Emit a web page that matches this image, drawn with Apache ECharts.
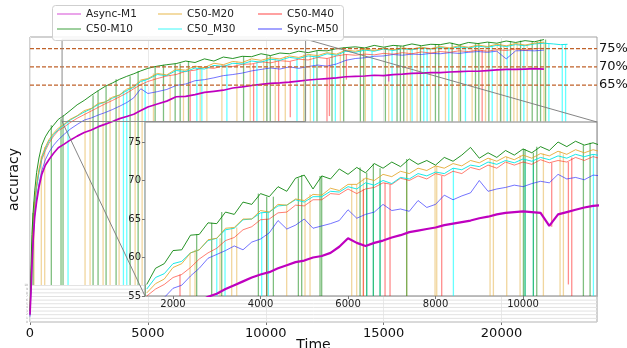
<!DOCTYPE html>
<html><head><meta charset="utf-8">
<script src="https://cdn.jsdelivr.net/npm/echarts@6/dist/echarts.min.js"></script>
<style>html,body{margin:0;padding:0;background:#fff;}#c{width:627px;height:348px;}</style>
</head><body><div id="c"></div>
<script>
// ---------- data: main plot (accuracy vs Time) ----------
const mainT = [0,40,80,130,200,280,380,500,650,800,1000,1200,1450,1700,2000,2300,2600,2900,3200,3500,3800,4100,4400,4700,5000,5400,5800,6200,6600,7000,7400,7800,8200,8600,9000,9400,9800,10200,10600,11000,11400,11800,12200,12600,13000,13400,13800,14200,14600,15000,15400,15800,16200,16600,17000,17400,17800,18200,18600,19000,19400,19800,20200,20600,21000,21400,21800,22200,22500,22800];
const asyncM1Main = [2,8,15,22,29,33,37,40.5,43,44.5,46.3,47.8,48.8,49.9,51.0,52.0,52.7,53.6,54.3,55.0,55.8,56.4,57.0,58.0,59.0,59.8,60.6,61.8,61.9,62.4,63.0,63.3,63.6,64.2,64.5,64.9,65.2,65.5,65.6,65.8,66.1,66.4,66.6,66.8,67.0,67.3,67.4,67.5,67.7,67.6,67.9,68.0,68.2,68.3,68.4,68.4,68.6,68.7,68.8,68.8,69.0,69.2,69.3,69.3,69.4,69.5,69.4,null,null,null];
const c50M10Main = [3,14,24,30,36,41,45,48.5,50.8,52.4,54.0,55.6,56.7,58.0,59.6,60.8,62.2,63.5,64.7,65.6,66.6,67.4,68.1,68.9,69.6,70.2,70.6,70.9,71.6,71.2,72.2,71.6,72.7,72.3,72.9,72.8,73.6,73.1,73.8,73.6,74.3,73.9,74.5,74.4,75.0,75.3,75.5,75.2,75.9,75.4,75.9,75.7,76.3,75.8,76.2,76.1,76.6,76.0,76.7,76.4,76.8,76.5,77.1,76.7,77.2,76.9,77.5,null,null,null];
const c50M20Main = [3,12,20,27,33,38,42,45.5,48,50,51.8,53.2,54.3,55.6,56.6,58.0,58.6,60.0,60.4,61.7,62.3,63.9,64.6,66.4,66.8,68.2,67.8,69.4,69.1,70.2,69.8,71.0,70.6,71.5,71.2,72.2,71.8,72.5,72.2,73.0,72.6,73.4,73.1,73.9,73.5,74.6,74.3,74.9,74.5,75.1,74.7,75.2,74.9,75.4,75.0,75.6,75.2,75.8,75.4,76.0,75.6,76.2,75.8,76.4,76.0,76.5,76.8,null,null,null];
const c50M30Main = [2,10,18,25,32,37,41,45,47.5,49.6,51.4,52.8,54.1,55.4,56.5,57.6,58.5,59.7,60.4,61.4,62.3,63.5,64.4,66.0,66.6,67.9,67.6,69.0,68.7,69.7,69.4,70.4,70.1,71.0,70.8,71.6,71.3,72.1,71.8,72.6,72.3,73.0,72.7,73.6,73.2,74.3,74.0,74.6,74.3,74.9,74.5,75.0,74.7,75.2,74.9,75.3,75.0,75.5,75.2,75.7,75.4,75.9,75.6,76.1,75.8,76.3,76.5,76.3,76.1,76.2];
const c50M40Main = [2,11,19,26,32,37,41,44.5,47,49,51.0,52.5,53.5,54.7,55.9,56.9,57.9,58.9,59.9,60.8,61.8,62.8,64.0,65.1,66.0,66.8,67.5,67.9,68.8,69.1,69.8,69.6,70.3,70.1,70.7,70.8,71.4,71.1,71.7,71.5,72.1,71.9,72.6,72.3,73.0,73.4,73.2,73.5,73.3,73.7,73.5,73.9,73.6,74.1,73.8,74.2,74.0,74.4,74.2,74.6,74.3,74.7,74.5,74.9,74.6,75.0,75.1,null,null,null];
const syncM50Main = [1.5,9,16,23,29,34,38,41.5,44.5,46.5,48.5,50.0,51.5,52.9,54.2,55.4,56.0,56.8,57.5,58.3,59.2,60.2,61.5,64.0,62.7,63.2,63.8,64.9,65.3,66.2,66.5,67.0,67.6,67.9,68.3,68.9,69.3,69.7,69.4,70.0,69.6,70.1,70.5,70.2,70.8,71.8,72.3,72.5,72.9,73.0,73.4,73.2,73.5,73.4,73.7,73.6,73.9,73.7,74.0,74.2,74.0,74.3,72.2,74.4,74.5,74.4,74.6,null,null,null];
// times where a run collapsed to 10% accuracy (main plot)
const c50M10DropsMain = [127,904,1316,1401,2675,2887,3227,3652,4246,4586,5308,5662,6157,6369,6723,9059,10050,10191,11677,12173,12810,13305,14013,14154,15074,15569,15711,15852,16561,17197,17339,17905,18259,18896,19037,19462,19958,20382,20807,21302,21515,21656,21868];
const c50M20DropsMain = [170,480,624,2335,2548,3100,3397,3779,4459,4756,5236,5945,6510,7219,7502,8139,8776,9342,9909,10403,10828,11607,11890,13163,14225,15215,15994,16136,16419,16985,17622,18188,18754,19321,19816,20099,20524,20665,21090,21798];
const c50M30DropsMain = [1614,3963,4105,4883,7077,7289,8351,9625,11324,12031,12951,14508,15357,16207,16702,16844,17764,18471,19604,20241,20948,22009,22577,22718];
const c50M40DropsMain = [6794,9484,10545,12597,19179];
const c50M40DipsMain = [[11040,56.2],[12700,56.5],[13420,66.5]];
const asyncM1DipsMain = [[15215,66.0]];
// ---------- data: inset ----------
const insetT = [1400,1600,1800,2000,2200,2400,2600,2800,3000,3200,3400,3600,3800,4000,4200,4400,4600,4800,5000,5200,5400,5600,5800,6000,6200,6400,6600,6800,7000,7200,7400,7600,7800,8000,8200,8400,8600,8800,9000,9200,9400,9600,9800,10000,10200,10400,10600,10800,11000,11200,11400,11600,11800];
const asyncM1Inset = [50,51,51.8,52.5,53.1,53.7,54.3,54.9,55.3,55.9,56.4,56.9,57.4,57.8,58.1,58.6,59.0,59.4,59.6,60.0,60.2,60.6,61.4,62.5,61.9,61.5,61.9,62.2,62.6,62.9,63.3,63.5,63.7,63.9,64.2,64.4,64.6,64.8,65.1,65.3,65.6,65.8,65.9,66.0,65.9,65.8,64.1,65.6,65.9,66.2,66.5,66.7,66.8];
const c50M10Inset = [56.5,58.6,59.2,60.9,61.0,62.9,63.0,64.5,64.4,65.9,65.6,67.2,66.9,68.3,67.9,69.2,68.6,70.3,70.7,68.9,70.6,70.2,71.5,70.8,71.7,71.0,72.2,71.6,72.4,71.8,72.8,72.1,72.6,72.0,73.0,72.5,73.3,74.3,72.9,73.6,73.0,73.9,73.3,74.1,73.6,74.4,73.9,75.0,74.4,75.1,74.6,74.9,74.5];
const c50M20Inset = [55.4,56.6,57.2,58.7,59.2,60.6,61.0,62.3,62.5,63.8,63.9,65.0,65.0,66.1,65.9,66.9,66.8,67.6,67.4,68.2,68.1,69.0,68.7,69.5,69.5,70.3,70.0,70.8,70.5,71.2,70.9,71.6,71.3,71.9,71.6,72.2,71.9,72.6,72.3,72.9,72.5,73.1,72.7,73.3,72.9,73.5,73.2,73.8,73.4,74.0,73.6,74.0,73.7];
const c50M30Inset = [55.9,57.4,57.9,59.2,59.5,60.6,61.0,62.2,62.5,63.6,63.8,64.9,65.0,65.8,65.9,66.7,66.8,67.5,67.2,67.9,67.9,68.6,68.5,69.2,68.9,69.7,69.4,70.0,69.6,70.4,70.2,70.9,70.6,71.1,70.9,71.6,71.4,72.0,71.8,72.4,72.1,72.6,72.3,72.8,72.5,73.0,72.7,73.2,72.9,73.4,73.1,73.4,73.2];
const c50M40Inset = [55.0,55.9,56.5,57.4,57.8,58.7,59.8,60.6,61.2,62.2,62.6,63.6,64.0,64.9,65.0,65.8,65.9,66.8,66.7,67.5,67.5,68.3,68.2,68.9,68.3,68.9,69.1,69.7,69.5,70.3,70.0,70.6,70.2,70.9,70.6,71.2,70.9,71.7,71.4,72.0,71.6,72.4,72.0,72.4,72.1,72.7,72.3,72.6,72.4,73.0,72.6,73.1,72.8];
const syncM50Inset = [52.5,53.8,54.8,56.0,56.4,57.6,58.6,59.9,60.4,60.9,61.5,61.0,62.0,62.4,63.2,64.8,63.7,64.2,65.0,63.8,64.1,64.4,64.8,66.2,65.1,65.6,65.9,66.9,66.1,66.3,66.0,67.4,66.5,66.9,68.1,67.5,68.0,68.4,70.0,68.6,68.9,69.1,69.4,69.2,69.6,69.9,69.7,70.8,70.2,70.4,70.1,70.7,70.6];
const c50M10DropsInset = [1360,2541,2884,3113,3951,4141,4294,4865,4941,5360,5398,6275,6427,6579,6732,7341,10008,10046,10236,10313,11379,11532];
const c50M20DropsInset = [2389,2503,3075,3341,3456,4598,5017,5132,6084,6198,6351,7341,7989,8027,9246,9322,9627,9932,10465,10846,10922];
const c50M30DropsInset = [3000,3189,4027,4179,6427,6579,6732,8408,10046,10236,11608];
const c50M40DropsInset = [2160,4141,6351,6846,6960,8141];
const c50M40DipsInset = [[10655,64.0],[11036,56.5],[11113,53]];
// ---------- axes / labels ----------
const mainXTicks = [0,5000,10000,15000,20000];
const lowYTicks = [0,1,2,3,4,5,6,7,8,9,10];
const refLevels = [75,70,65];
const insetXTicks = [2000,4000,6000,8000,10000];
const insetYTicks = [55,60,65,70,75];
const insetXRange = [1360,11690];
const insetYRange = [55,77.6];
const mainXRange = [0,24050];
const mainYRange = [0,78.2];
const collapseLevel = 10;
const legendRows = [['Async-M1','C50-M20','C50-M40'],['C50-M10','C50_M30','Sync-M50']];

// ---------- styles ----------
const style = {
  'Async-M1': {line:'#bf00bf', spike:'rgba(191,0,191,0.5)', legend:'#e58fe5', w:1.7, wi:2.2, z:8},
  'C50-M10': {line:'rgba(0,128,0,0.85)', spike:'rgba(0,128,0,0.5)', legend:'#86c486', w:1, wi:1, z:7},
  'C50-M20': {line:'rgba(225,160,30,0.8)', spike:'rgba(225,165,40,0.45)', legend:'#f0d28e', w:1, wi:1, z:6},
  'C50_M30': {line:'rgba(0,230,230,0.9)', spike:'rgba(0,255,255,0.6)', legend:'#86fbfb', w:1, wi:1, z:5},
  'C50-M40': {line:'rgba(255,40,20,0.6)', spike:'rgba(255,0,0,0.45)', legend:'#ff8a8a', w:1, wi:1, z:4},
  'Sync-M50': {line:'rgba(30,30,255,0.62)', spike:'rgba(0,0,255,0.4)', legend:'#8c8cff', w:1, wi:1, z:3}
};
const FONT = 'DejaVu Sans';
const REF_COLOR = '#c0622a';

function pairs(ts, vs){ return ts.map((t,i)=>[t, vs[i]]); }
function nearest(ts, vs, t){ let b=0; for(let i=1;i<ts.length;i++){ if(Math.abs(ts[i]-t)<Math.abs(ts[b]-t)) b=i; } return vs[b]; }
function lineSeries(name, ts, vs, gi){
  const st = style[name];
  return {type:'line', name, xAxisIndex:gi, yAxisIndex:gi, data:pairs(ts,vs), symbol:'none', showSymbol:false,
    clip:true, silent:true, animation:false, z: (gi?10:2) + st.z*0.01,
    lineStyle:{color:st.line, width: gi?st.wi:st.w}, itemStyle:{color:st.line}};
}
function spikeSeries(name, ts, vs, drops, dips, gi, floor){
  const st = style[name]; const data=[];
  drops.forEach(t=>{ const top=nearest(ts,vs,t); if(top!=null) data.push([t, top, floor]); });
  (dips||[]).forEach(d=>{ const top=nearest(ts,vs,d[0]); if(top!=null) data.push([d[0], top, Math.max(d[1], floor)]); });
  return {type:'custom', name:name+' drop', xAxisIndex:gi, yAxisIndex:gi, clip:true, silent:true, animation:false,
    z: gi?9:1, data, encode:{x:0, y:[1,2]},
    renderItem:(p,api)=>{ const a=api.coord([api.value(0),api.value(1)]); const b=api.coord([api.value(0),api.value(2)]);
      return {type:'line', shape:{x1:a[0],y1:a[1],x2:b[0],y2:b[1]}, style:{stroke:st.spike, lineWidth:1.3}}; }};
}
const insetFloor = Math.max(collapseLevel, insetYRange[0]);

const series = [
  spikeSeries('C50-M20', mainT, c50M20Main, c50M20DropsMain, [], 0, collapseLevel),
  spikeSeries('C50_M30', mainT, c50M30Main, c50M30DropsMain, [], 0, collapseLevel),
  spikeSeries('C50-M40', mainT, c50M40Main, c50M40DropsMain, c50M40DipsMain, 0, collapseLevel),
  spikeSeries('C50-M10', mainT, c50M10Main, c50M10DropsMain, [], 0, collapseLevel),
  spikeSeries('Async-M1', mainT, asyncM1Main, [], asyncM1DipsMain, 0, collapseLevel),
  lineSeries('Sync-M50', mainT, syncM50Main, 0),
  lineSeries('C50-M40', mainT, c50M40Main, 0),
  lineSeries('C50_M30', mainT, c50M30Main, 0),
  lineSeries('C50-M20', mainT, c50M20Main, 0),
  lineSeries('C50-M10', mainT, c50M10Main, 0),
  lineSeries('Async-M1', mainT, asyncM1Main, 0),
  // inset
  spikeSeries('C50-M20', insetT, c50M20Inset, c50M20DropsInset, [], 1, insetFloor),
  spikeSeries('C50_M30', insetT, c50M30Inset, c50M30DropsInset, [], 1, insetFloor),
  spikeSeries('C50-M40', insetT, c50M40Inset, c50M40DropsInset, c50M40DipsInset, 1, insetFloor),
  spikeSeries('C50-M10', insetT, c50M10Inset, c50M10DropsInset, [], 1, insetFloor),
  lineSeries('Sync-M50', insetT, syncM50Inset, 1),
  lineSeries('C50-M40', insetT, c50M40Inset, 1),
  lineSeries('C50_M30', insetT, c50M30Inset, 1),
  lineSeries('C50-M20', insetT, c50M20Inset, 1),
  lineSeries('C50-M10', insetT, c50M10Inset, 1),
  lineSeries('Async-M1', insetT, asyncM1Inset, 1)
];

const colLeft = [57,158,258], rowTop = [8,23];
const legends = [];
legendRows.forEach((row,ri)=>row.forEach((name,ci)=>{
  legends.push({show:true, left:colLeft[ci], top:rowTop[ri], padding:0, itemWidth:24, itemHeight:1.6, icon:'rect', itemGap:0,
    selectedMode:false, z:21, data:[{name, itemStyle:{color:style[name].legend}}],
    textStyle:{fontSize:10.5, color:'#222', fontFamily:FONT, lineHeight:12}});
}));

const plain = v => String(v);
const option = {
  animation:false,
  textStyle:{fontFamily:FONT},
  grid:[
    {left:30, right:30, top:37, bottom:26, show:true, borderColor:'#a3a3a3', borderWidth:1, backgroundColor:'transparent', outerBoundsMode:'none', containLabel:false},
    {left:145, right:30, top:122, bottom:52, show:true, borderColor:'#ababab', borderWidth:1.5, backgroundColor:'#ffffff', z:5, outerBoundsMode:'none', containLabel:false}
  ],
  legend: legends,
  xAxis:[
    {gridIndex:0, type:'value', min:mainXRange[0], max:mainXRange[1], interval:5000, axisLine:{show:false},
     axisTick:{show:true, length:3, lineStyle:{color:'#777'}, customValues:mainXTicks},
     axisLabel:{fontSize:13, color:'#111', margin:5, customValues:mainXTicks, formatter:plain},
     splitLine:{show:true, lineStyle:{color:'#e9e9e9'}},
     name:'Time', nameLocation:'middle', nameGap:16, nameMoveOverlap:false, nameTextStyle:{fontSize:14, color:'#111'}},
    {gridIndex:1, type:'value', min:insetXRange[0], max:insetXRange[1], axisLine:{show:false}, z:6,
     axisTick:{show:true, length:3, lineStyle:{color:'#777'}, customValues:insetXTicks},
     axisLabel:{fontSize:10, color:'#222', margin:3, customValues:insetXTicks, formatter:plain}, splitLine:{show:false}}
  ],
  yAxis:[
    {gridIndex:0, type:'value', min:mainYRange[0], max:mainYRange[1], axisLine:{show:false}, axisTick:{show:false},
     axisLabel:{fontSize:3, color:'#999', margin:2, customValues:lowYTicks, formatter:plain}, splitLine:{show:false},
     name:'accuracy', nameLocation:'middle', nameGap:9, nameMoveOverlap:false, nameTextStyle:{fontSize:14, color:'#111'}},
    {gridIndex:1, type:'value', min:insetYRange[0], max:insetYRange[1], axisLine:{show:false}, z:6,
     axisTick:{show:true, length:3, lineStyle:{color:'#777'}, customValues:insetYTicks},
     axisLabel:{fontSize:10, color:'#222', margin:4, customValues:insetYTicks, formatter:plain}, splitLine:{show:false}}
  ],
  series
};

const chart = echarts.init(document.getElementById('c'), null, {renderer:'canvas'});
chart.setOption(option);

const px = (gi, x, y) => chart.convertToPixel({gridIndex:gi}, [x, y]);
const graphics = [];
// faint horizontal grid for the low (0-10%) ticks
lowYTicks.forEach(v=>{
  const a = px(0, mainXRange[0], v), b = px(0, mainXRange[1], v);
  graphics.push({type:'line', z:1, silent:true, shape:{x1:a[0], y1:a[1], x2:b[0], y2:b[1]}, style:{stroke:'#e2e2e2', lineWidth:1}});
});
// reference accuracy levels
refLevels.forEach(v=>{
  const a = px(0, mainXRange[0], v), b = px(0, mainXRange[1], v);
  graphics.push({type:'line', z:4, silent:true, shape:{x1:a[0], y1:a[1], x2:b[0], y2:b[1]}, style:{stroke:REF_COLOR, lineWidth:1.3, lineDash:[4,2]}});
  graphics.push({type:'text', z:4, silent:true, x:b[0]+2, y:b[1], style:{text:v+'%', fill:'#111', fontSize:13, fontFamily:FONT, verticalAlign:'middle', align:'left'}});
});
// zoom indicator: rectangle on main plot + connectors to the inset
const m0 = px(0, insetXRange[0], insetYRange[0]);
const m1 = px(0, insetXRange[1], insetYRange[1]);
const i0 = px(1, insetXRange[0], insetYRange[0]);
const i1 = px(1, insetXRange[1], insetYRange[1]);
graphics.push(
  {type:'rect', z:15, silent:true, shape:{x:m0[0], y:m1[1], width:m1[0]-m0[0], height:m0[1]-m1[1]}, style:{fill:'none', stroke:'#8a8a8a', lineWidth:1}},
  {type:'line', z:15, silent:true, shape:{x1:m0[0], y1:m0[1], x2:i0[0], y2:i0[1]}, style:{stroke:'#777', lineWidth:0.9}},
  {type:'line', z:15, silent:true, shape:{x1:m1[0], y1:m1[1], x2:i1[0], y2:i1[1]}, style:{stroke:'#777', lineWidth:0.9}},
  {type:'rect', z:20, silent:true, shape:{x:52.5, y:5.5, width:291, height:35, r:3}, style:{fill:'rgba(255,255,255,0.85)', stroke:'#cfcfcf', lineWidth:1}}
);
chart.setOption({graphic: graphics});
</script>
</body></html>
